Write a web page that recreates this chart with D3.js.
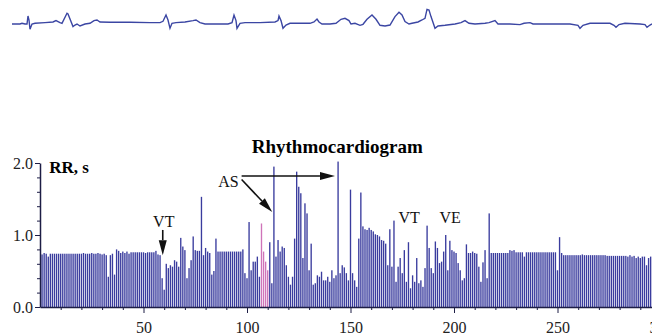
<!DOCTYPE html>
<html>
<head>
<meta charset="utf-8">
<script src="https://cdn.jsdelivr.net/npm/d3@7"></script>
<style>
  body { margin: 0; background: #fff; }
  svg text { font-family: "Liberation Serif", "Times New Roman", serif; }
</style>
</head>
<body>
<div id="chart"></div>
<script>
// RR interval (s) for each beat, beat 1 .. 296
const rrValues = [
  0.73,0.75,0.74,0.70,0.74,0.74,0.74,0.74,0.74,0.74,
  0.74,0.74,0.74,0.74,0.74,0.74,0.74,0.74,0.74,0.74,
  0.75,0.74,0.74,0.74,0.75,0.74,0.74,0.75,0.74,0.73,
  0.74,0.72,0.42,0.72,0.74,0.45,0.80,0.78,0.75,0.77,
  0.75,0.77,0.74,0.76,0.76,0.76,0.76,0.76,0.76,0.76,
  0.75,0.76,0.76,0.76,0.76,0.78,0.73,0.72,0.40,0.24,
  0.60,0.54,0.58,0.56,0.65,0.63,0.56,0.96,0.84,0.79,
  0.40,0.54,0.65,0.98,0.79,0.78,0.78,1.53,0.72,0.82,
  0.77,0.75,0.45,0.50,0.95,0.77,0.77,0.77,0.77,0.77,
  0.77,0.77,0.77,0.77,0.77,0.77,0.77,0.80,0.47,0.40,
  1.18,0.51,0.63,0.63,0.70,0.42,1.16,0.77,0.63,0.51,
  0.90,0.33,1.95,0.70,0.93,0.77,0.84,0.82,0.58,0.42,
  0.31,0.42,0.95,1.88,1.67,1.58,0.68,1.44,1.30,0.51,
  0.88,0.31,0.33,0.44,0.42,0.49,0.37,0.37,0.42,0.35,
  0.51,0.40,0.44,2.02,0.47,0.58,0.55,0.47,0.37,1.63,
  0.47,0.37,0.28,0.95,1.59,1.12,1.08,1.07,1.10,1.07,
  1.05,1.01,1.00,0.98,0.93,0.92,0.88,0.58,1.08,0.56,
  1.20,0.35,0.56,0.68,0.47,0.79,0.35,0.90,0.26,0.44,
  0.35,0.68,0.33,0.37,0.28,0.54,1.13,0.82,0.54,0.47,
  0.91,0.82,0.61,0.63,0.77,1.00,0.51,0.92,0.79,0.77,
  0.75,0.61,0.51,0.37,0.40,0.87,0.75,0.75,0.77,0.75,
  0.74,0.56,0.35,0.62,0.79,0.40,1.30,0.75,0.75,0.75,
  0.75,0.75,0.75,0.75,0.75,0.75,0.79,0.78,0.79,0.76,
  0.76,0.76,0.76,0.70,0.76,0.76,0.76,0.76,0.76,0.76,
  0.76,0.76,0.76,0.76,0.76,0.76,0.76,0.76,0.76,0.51,
  0.97,0.75,0.72,0.72,0.72,0.72,0.72,0.72,0.72,0.72,
  0.72,0.73,0.72,0.72,0.72,0.72,0.72,0.72,0.72,0.72,
  0.72,0.72,0.72,0.71,0.71,0.71,0.71,0.71,0.71,0.71,
  0.71,0.71,0.71,0.70,0.72,0.70,0.71,0.68,0.70,0.68,
  0.70,0.70,0.58,0.68,0.70,0.70
];
const pinkBeats = [107, 108, 109, 110];

const xTickLabels = [50, 100, 150, 200, 250, 300];
const xMinorTicks = [10,20,30,40,60,70,80,90,110,120,130,140,160,170,180,190,210,220,230,240,260,270,280,290];
const yTickLabels = [0, 1, 2];
const yMinorTicks = [0.2,0.4,0.6,0.8,1.2,1.4,1.6,1.8];

// ECG strip: sample index and amplitude (mV)
const ecgTime = [0,8,10,13,15,16,17,18,20,23,33,41,44,48,50,55,56,61,63,65,68,73,78,82,85,88,98,118,138,148,
  151,154,156,158,160,164,173,181,184,188,193,216,220,222,224,225,228,233,248,263,266,267,269,271,274,278,298,302,305,307,
  310,318,324,329,333,337,339,343,348,351,355,360,364,368,373,378,383,387,390,393,397,400,406,410,413,415,417,419,423,426,
  433,443,449,453,457,463,473,477,483,486,498,508,512,518,521,558,566,568,571,578,598,602,604,607,613,628,633,635,638,640];
const ecgAmp = [-0.07,-0.07,0,-0.07,-0.07,0.73,0.33,-0.6,-0.07,0,0.07,0.13,0.27,0.07,0,1.0,0.93,-0.33,-0.17,-0.07,-0.27,-0.07,0,0.27,0.33,0.13,0.1,0.1,0.07,0.07,
  0.2,0.83,0.33,-0.5,0,0.07,0.13,0.27,0.33,0.07,-0.07,-0.07,0.07,0.83,0.27,-0.5,0,0.07,0.07,0.13,0.27,0.73,0.27,-0.5,-0.17,0,0,0.13,0.43,0.13,
  -0.07,-0.07,0,0.4,0.5,0.27,-0.07,0,-0.2,-0.1,0.4,0.83,0.4,-0.2,-0.27,-0.17,0.67,1.1,0.83,0.17,-0.07,0,0.13,0.33,0.5,1.4,1.33,0.67,-0.5,-0.27,
  -0.2,-0.07,0.07,0.27,0,-0.07,0,0.07,0.27,-0.07,-0.07,-0.13,0,0.07,-0.07,-0.07,-0.2,-0.5,-0.2,0,0,-0.2,-0.4,-0.13,0,-0.07,-0.13,-0.4,-0.17,-0.07];

// annotations in beat / RR coordinates
const labelText = ["VT", "VT", "VE", "AS"];
const labelBeat = [59.8, 178.3, 198.1, 91.0];
const labelRR = [1.11, 1.16, 1.17, 1.67];
const arrowFrom = [[59.3, 1.07], [97.4, 1.82], [97.4, 1.77]];
const arrowTo = [[59.3, 0.72], [142.5, 1.82], [112.2, 1.32]];

const width = 652, height = 335;
const barColor = "#3a3c9e", pinkColor = "#cf74b9", axisColor = "#1d1d45";

const svg = d3.select("#chart").append("svg")
  .attr("width", width)
  .attr("height", height)
  .attr("viewBox", [0, 0, width, height]);

// ECG strip on top
const ex = d3.scaleLinear().domain([0, 640]).range([12, 652]);
const ey = d3.scaleLinear().domain([-1, 1]).range([33.3, 13.3]);
const ecgLine = d3.line().x(d => ex(d[0])).y(d => ey(d[1]));
svg.append("path")
  .datum(ecgTime.map((t, i) => [t, ecgAmp[i]]))
  .attr("d", ecgLine)
  .attr("fill", "none")
  .attr("stroke", "#3b46a3")
  .attr("stroke-width", 1.4);

// rhythmocardiogram
const x = d3.scaleLinear().domain([0, 300]).range([40, 661]);
const y = d3.scaleLinear().domain([0, 2]).range([307, 163]);
const bw = 1.35;

svg.append("g").selectAll("rect")
  .data(rrValues)
  .join("rect")
  .attr("x", (d, i) => x(i + 1) - bw / 2)
  .attr("y", d => y(d))
  .attr("width", bw)
  .attr("height", d => y(0) - y(d))
  .attr("fill", (d, i) => pinkBeats.includes(i + 1) ? pinkColor : barColor);

// x axis
const xMinor = svg.append("g")
  .attr("transform", "translate(0," + y(0) + ")")
  .call(d3.axisBottom(x).tickValues(xMinorTicks).tickSize(3).tickFormat(""));
xMinor.select(".domain").remove();

const xa = svg.append("g")
  .attr("transform", "translate(0," + y(0) + ")")
  .call(d3.axisBottom(x).tickValues(xTickLabels).tickSize(6).tickSizeOuter(0).tickPadding(9));
xa.select(".domain").attr("stroke-width", 1.5);
xa.selectAll("text").attr("font-size", 16).attr("fill", "#222").attr("font-family", "Liberation Serif");

// y axis
svg.append("g")
  .attr("transform", "translate(40,0)")
  .call(d3.axisLeft(y).tickValues(yMinorTicks).tickSize(3).tickFormat(""))
  .select(".domain").remove();

const ya = svg.append("g")
  .attr("transform", "translate(40,0)")
  .call(d3.axisLeft(y).tickValues(yTickLabels).tickSize(5).tickSizeOuter(0).tickPadding(2).tickFormat(d3.format(".1f")));
ya.select(".domain").attr("stroke-width", 1.5);
ya.selectAll("text").attr("font-size", 16).attr("fill", "#222").attr("font-family", "Liberation Serif");

svg.selectAll(".tick line").attr("stroke", axisColor);
svg.selectAll(".domain").attr("stroke", axisColor);

// titles
svg.append("text")
  .attr("x", x(143.6))
  .attr("y", y(2.14))
  .attr("text-anchor", "middle")
  .attr("font-weight", "bold")
  .attr("font-size", 19)
  .text("Rhythmocardiogram");

svg.append("text")
  .attr("x", x(4.5))
  .attr("y", 173)
  .attr("font-weight", "bold")
  .attr("font-size", 17)
  .text("RR, s");

// event labels
svg.append("g").selectAll("text")
  .data(labelText)
  .join("text")
  .attr("x", (d, i) => x(labelBeat[i]))
  .attr("y", (d, i) => y(labelRR[i]))
  .attr("text-anchor", "middle")
  .attr("font-size", 16)
  .attr("fill", "#111")
  .text(d => d);

// arrows
const head = 15, half = 4;
arrowFrom.forEach((f, i) => {
  const x1 = x(f[0]), y1 = y(f[1]);
  const x2 = x(arrowTo[i][0]), y2 = y(arrowTo[i][1]);
  const len = Math.hypot(x2 - x1, y2 - y1);
  const ux = (x2 - x1) / len, uy = (y2 - y1) / len;
  const bx = x2 - ux * head, by = y2 - uy * head;
  svg.append("line")
    .attr("x1", x1).attr("y1", y1)
    .attr("x2", bx).attr("y2", by)
    .attr("stroke", "#111")
    .attr("stroke-width", 1.6);
  svg.append("path")
    .attr("d", d3.line()([[x2, y2], [bx - uy * half, by + ux * half], [bx + uy * half, by - ux * half]]) + "Z")
    .attr("fill", "#111");
});
</script>
</body>
</html>
